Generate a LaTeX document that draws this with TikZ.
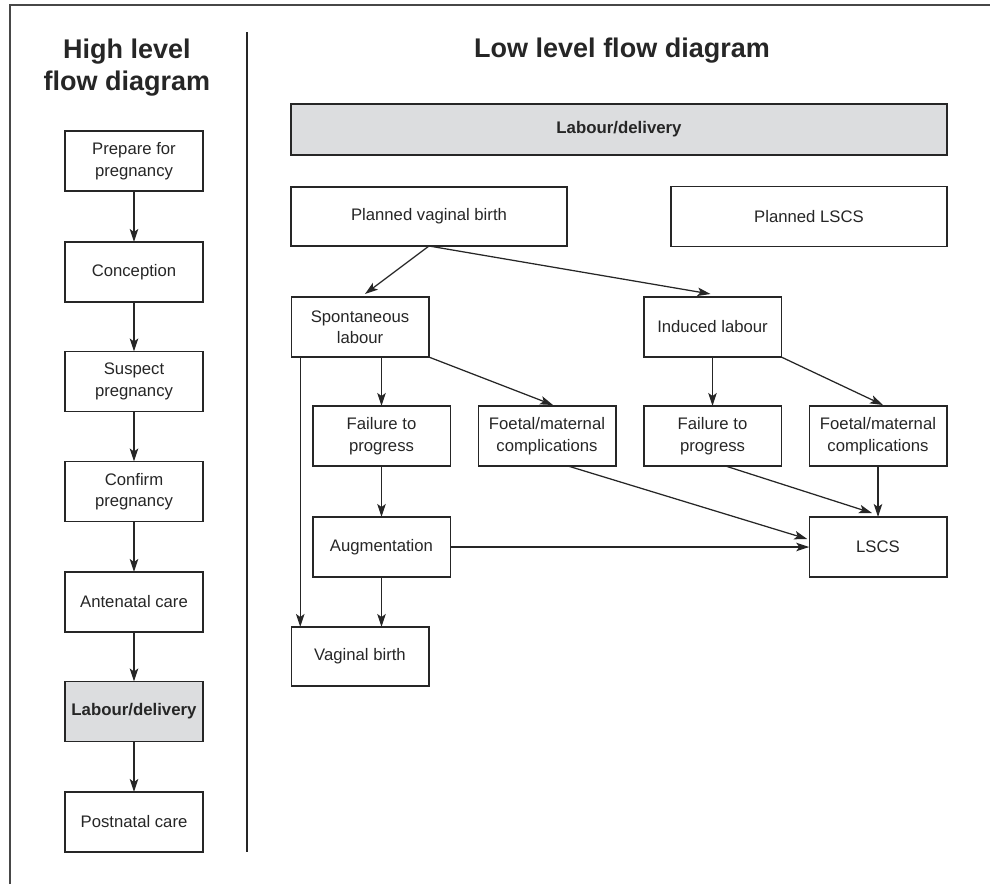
\documentclass[tikz,border=0pt]{standalone}
\usepackage{fontspec}
\setmainfont{Liberation Sans}
\usetikzlibrary{arrows.meta,calc}

\definecolor{ink}{HTML}{262626}
\definecolor{shade}{HTML}{DCDDDF}

\tikzset{
  box/.style={draw=ink, line width=1.5pt, inner sep=0pt, outer sep=0pt,
    align=center, text=ink, font=\fontsize{16.7}{21.5}\selectfont},
  hibox/.style={box, fill=shade, font=\fontsize{16.8}{21.5}\selectfont\bfseries},
  flow/.style={draw=ink, line width=1.25pt,
    -{Stealth[length=13pt,width=8.5pt,inset=3pt]}},
  rule/.style={draw=ink, line width=1.3pt},
  heading/.style={text=ink, inner sep=0pt, font=\fontsize{27}{32}\selectfont\bfseries},
}

\begin{document}
\begin{tikzpicture}[x=1pt,y=-1pt]
\useasboundingbox (0,0) rectangle (990,884);

% frame and column divider
\coordinate (fl) at (10,884);
\coordinate (ftl) at (10,5);
\coordinate (ftr) at (990,5);
\draw[rule, draw=ink!85] (fl) -- (ftl) -- (ftr);
\coordinate (dt) at (247,32);
\coordinate (db) at (247,852);
\draw[rule] (dt) -- (db);

% headings
\node[heading, anchor=base] (hh1) at (127,58) {High level};
\node[heading, anchor=base] (hh2) at (127,90) {flow diagram};
\node[heading, anchor=base] (lh) at (622,57) {Low level flow diagram};

% high level column
\tikzset{lbox/.style={box, minimum width=138pt, minimum height=60pt}}
\node[lbox] (prep) at (134,161) {Prepare for\\pregnancy};
\node[lbox] (conc) at (134,272) {Conception};
\node[lbox] (susp) at (134,381.5) {Suspect\\pregnancy};
\node[lbox] (conf) at (134,491.5) {Confirm\\pregnancy};
\node[lbox] (ante) at (134,602) {Antenatal care};
\node[lbox, hibox] (labl) at (134,711.5) {Labour/delivery};
\node[lbox] (post) at (134,822) {Postnatal care};

\foreach \a/\b in {prep/conc,conc/susp,susp/conf,conf/ante,ante/labl,labl/post}
  \draw[flow] (\a.south) -- (\b.north);

% low level diagram
\node[hibox, minimum width=656pt, minimum height=51pt] (labr) at (619,129.5) {Labour/delivery};
\node[box, minimum width=276pt, minimum height=59pt] (pvb) at (429,216.5) {Planned vaginal birth};
\node[box, minimum width=276pt, minimum height=60pt] (plscs) at (809,216.5) {Planned LSCS};

\tikzset{sbox/.style={box, minimum width=137.5pt, minimum height=60pt}}
\node[sbox] (spont) at (360,327) {Spontaneous\\labour};
\node[sbox] (ind) at (712.5,327) {Induced labour};
\node[sbox] (failL) at (381.5,436) {Failure to\\progress};
\node[sbox] (foetL) at (547,436) {Foetal/maternal\\complications};
\node[sbox] (failR) at (712.5,436) {Failure to\\progress};
\node[sbox] (foetR) at (878,436) {Foetal/maternal\\complications};
\node[sbox] (aug) at (381.5,547) {Augmentation};
\node[sbox] (lscs) at (878,547) {LSCS};
\node[sbox, minimum height=59pt] (vag) at (360,656.5) {Vaginal birth};

\draw[flow] (pvb.south) -- ([xshift=5pt,yshift=3pt]spont.north);
\draw[flow] (pvb.south) -- ([xshift=-2pt,yshift=3pt]ind.north);
\draw[flow] (failL.north |- spont.south) -- (failL.north);
\draw[flow] (spont.south east) -- ([xshift=6pt,yshift=1pt]foetL.north);
\draw[flow] ([xshift=9pt]spont.south west) -- ([xshift=9pt]vag.north west);
\draw[flow] (failL.south) -- (aug.north);
\draw[flow] (aug.south) -- (aug.south |- vag.north);
\draw[flow] (aug.east) -- (lscs.west);
\draw[flow] (ind.south) -- (failR.north);
\draw[flow] (ind.south east) -- ([xshift=5pt,yshift=1pt]foetR.north);
\draw[flow] ([xshift=21pt]foetL.south) -- ([xshift=-2pt,yshift=8pt]lscs.west);
\draw[flow] ([xshift=13pt]failR.south) -- ([xshift=-6pt,yshift=4pt]lscs.north);
\draw[flow] (foetR.south) -- (lscs.north);
\end{tikzpicture}
\end{document}
